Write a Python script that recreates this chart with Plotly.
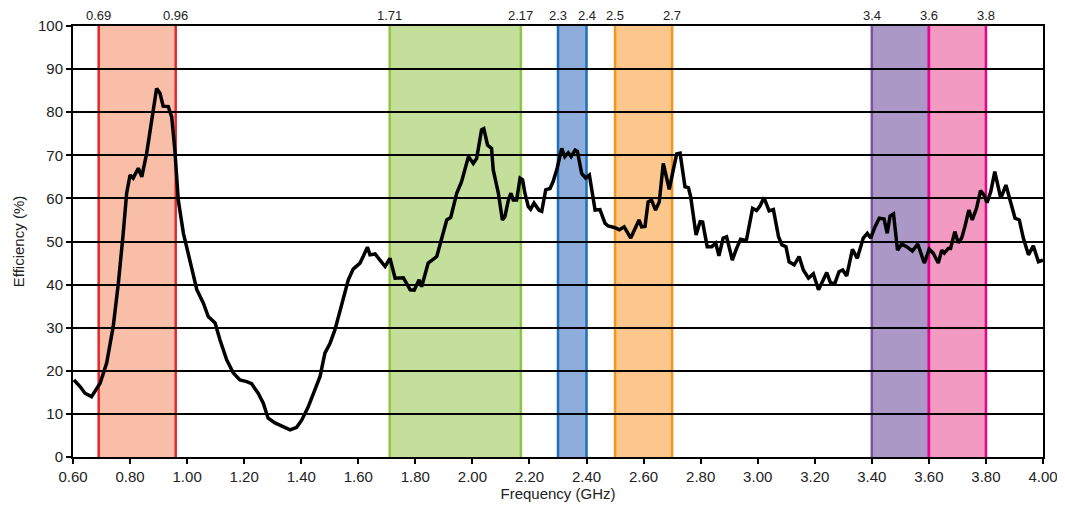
import plotly.graph_objects as go

# Measured efficiency curve
freq_ghz = [0.603, 0.624, 0.642, 0.665, 0.695, 0.718, 0.741, 0.759, 0.776, 0.788, 0.800, 0.811, 0.829, 0.841,
            0.858, 0.876, 0.893, 0.905, 0.916, 0.934, 0.946, 0.957, 0.969, 0.987, 1.010, 1.034, 1.057, 1.074,
            1.098, 1.115, 1.139, 1.162, 1.185, 1.209, 1.226, 1.249, 1.267, 1.284, 1.308, 1.337, 1.361, 1.384,
            1.402, 1.425, 1.448, 1.466, 1.483, 1.501, 1.518, 1.530, 1.547, 1.565, 1.582, 1.606, 1.617, 1.632,
            1.641, 1.659, 1.676, 1.694, 1.711, 1.729, 1.758, 1.782, 1.796, 1.813, 1.822, 1.845, 1.875, 1.892,
            1.910, 1.924, 1.945, 1.962, 1.986, 2.003, 2.015, 2.032, 2.040, 2.053, 2.067, 2.073, 2.091, 2.105,
            2.114, 2.126, 2.135, 2.143, 2.155, 2.167, 2.176, 2.184, 2.196, 2.204, 2.216, 2.233, 2.243, 2.257,
            2.272, 2.283, 2.297, 2.313, 2.324, 2.336, 2.346, 2.360, 2.368, 2.383, 2.397, 2.410, 2.430, 2.447,
            2.465, 2.476, 2.500, 2.515, 2.532, 2.555, 2.570, 2.584, 2.593, 2.605, 2.616, 2.628, 2.642, 2.655,
            2.669, 2.690, 2.704, 2.716, 2.728, 2.745, 2.757, 2.765, 2.784, 2.798, 2.807, 2.823, 2.839, 2.853,
            2.864, 2.879, 2.891, 2.911, 2.926, 2.940, 2.955, 2.961, 2.982, 2.996, 3.008, 3.022, 3.040, 3.055,
            3.073, 3.085, 3.099, 3.110, 3.128, 3.145, 3.160, 3.178, 3.195, 3.213, 3.227, 3.242, 3.256, 3.271,
            3.285, 3.298, 3.312, 3.332, 3.349, 3.370, 3.384, 3.396, 3.411, 3.426, 3.443, 3.454, 3.464, 3.476,
            3.490, 3.505, 3.522, 3.542, 3.561, 3.584, 3.601, 3.615, 3.633, 3.645, 3.654, 3.668, 3.676, 3.691,
            3.703, 3.715, 3.726, 3.740, 3.752, 3.767, 3.781, 3.793, 3.804, 3.817, 3.831, 3.852, 3.870, 3.890,
            3.902, 3.917, 3.931, 3.949, 3.966, 3.984, 4.000]
efficiency_pct = [17.9, 16.4, 14.8, 14.0, 17.1, 21.8, 30.3, 40.3, 51.9, 61.2, 65.4, 64.7, 67.0, 65.0,
                  70.4, 78.2, 85.5, 84.4, 81.4, 81.3, 78.9, 71.2, 59.6, 51.9, 45.7, 38.8, 35.7, 32.6,
                  31.1, 27.2, 22.5, 19.5, 17.9, 17.5, 17.0, 14.8, 12.5, 9.0, 7.9, 7.1, 6.3, 6.9,
                  8.6, 11.7, 15.6, 18.7, 24.1, 26.4, 29.5, 32.6, 37.2, 41.1, 43.6, 45.0, 46.5, 48.7,
                  46.9, 47.1, 45.7, 44.2, 46.1, 41.5, 41.6, 38.8, 38.7, 41.1, 39.5, 45.0, 46.5, 50.4,
                  55.0, 55.6, 61.2, 63.9, 69.7, 68.1, 69.3, 75.9, 76.2, 72.4, 71.6, 66.6, 61.2, 55.0,
                  55.8, 59.6, 61.2, 59.6, 59.6, 64.7, 64.3, 61.2, 58.1, 57.5, 58.9, 57.3, 57.0, 62.0,
                  62.3, 63.9, 67.0, 71.6, 69.7, 70.6, 69.7, 71.2, 70.9, 65.8, 64.7, 65.4, 57.3, 57.4,
                  54.2, 53.6, 53.2, 52.7, 53.4, 50.8, 53.1, 55.0, 53.4, 53.5, 59.2, 59.6, 57.3, 59.2,
                  68.1, 62.1, 66.6, 70.3, 70.5, 62.7, 62.5, 60.4, 51.5, 54.6, 54.5, 48.8, 48.8, 49.6,
                  46.7, 50.8, 51.1, 45.7, 48.4, 50.5, 50.3, 50.5, 57.7, 57.2, 58.2, 60.2, 57.1, 57.4,
                  51.1, 49.2, 48.8, 45.3, 44.6, 46.5, 43.4, 41.5, 42.5, 38.8, 40.7, 42.8, 40.3, 40.4,
                  43.0, 43.4, 42.0, 48.2, 46.1, 50.8, 51.9, 50.8, 53.4, 55.4, 55.2, 51.9, 55.9, 56.4,
                  48.0, 49.4, 48.8, 47.8, 49.4, 45.0, 48.2, 47.3, 45.0, 48.0, 47.3, 48.4, 48.4, 52.3,
                  49.7, 50.8, 53.4, 57.3, 55.0, 57.7, 61.8, 60.8, 59.0, 61.6, 66.2, 60.0, 63.1, 58.2,
                  55.4, 55.0, 50.8, 46.9, 49.0, 45.3, 45.7]

# Frequency bands
band_start = [0.69, 1.71, 2.3, 2.5, 3.4, 3.6]
band_end = [0.96, 2.17, 2.4, 2.7, 3.6, 3.8]
band_fill = ["#F8BEA8", "#C4DE9C", "#8FADDB", "#FBC78C", "#AC98C6", "#F29AC2"]
band_edge = ["#E5262A", "#8DC63F", "#1C70BE", "#F7941D", "#7B52A3", "#EC008C"]

# Top labels
top_label_vals = [0.69, 0.96, 1.71, 2.17, 2.3, 2.4, 2.5, 2.7, 3.4, 3.6, 3.8]
top_label_text = ["0.69", "0.96", "1.71", "2.17", "2.3", "2.4", "2.5", "2.7", "3.4", "3.6", "3.8"]

x_ticks = [round(0.6 + 0.2 * i, 2) for i in range(18)]
y_ticks = list(range(0, 101, 10))

fig = go.Figure()

shapes = []
for s, e, f in zip(band_start, band_end, band_fill):
    shapes.append(dict(type="rect", xref="x", yref="y", x0=s, x1=e, y0=0, y1=100,
                       fillcolor=f, line=dict(width=0), layer="below"))
for s, e, c in zip(band_start, band_end, band_edge):
    for xv in (s, e):
        shapes.append(dict(type="line", xref="x", yref="y", x0=xv, x1=xv, y0=0, y1=100,
                           line=dict(color=c, width=2.5), layer="below"))

fig.add_trace(go.Scatter(x=freq_ghz, y=efficiency_pct, mode="lines",
                         line=dict(color="black", width=3.5), showlegend=False,
                         hoverinfo="skip"))

annotations = [dict(x=v, y=1.0, xref="x", yref="paper", text=t, showarrow=False,
                    yanchor="bottom", yshift=1, font=dict(size=13, color="#222"))
               for v, t in zip(top_label_vals, top_label_text)]

fig.update_layout(
    width=1057, height=499,
    margin=dict(l=65, r=22, t=18, b=50, autoexpand=False),
    plot_bgcolor="white", paper_bgcolor="white",
    font=dict(family="Liberation Sans, Arial, sans-serif", size=15, color="#222"),
    shapes=shapes, annotations=annotations,
    xaxis=dict(range=[0.6, 4.0], tickvals=x_ticks, tickformat=".2f", automargin=False,
               showgrid=False, zeroline=False, showline=True, linecolor="black",
               linewidth=2, mirror=True, ticks="outside", ticklen=5, tickwidth=2,
               tickcolor="black", tickfont=dict(size=15),
               title=dict(text="Frequency (GHz)", standoff=4, font=dict(size=15))),
    yaxis=dict(range=[0, 100], tickvals=y_ticks, showgrid=True, gridcolor="black",
               gridwidth=2, zeroline=False, showline=True, linecolor="black",
               linewidth=2, mirror=True, ticks="outside", ticklen=5, tickwidth=2,
               automargin=False, tickfont=dict(size=15),
               tickcolor="black",
               title=dict(text="Efficiency (%)", standoff=10, font=dict(size=15))),
)

fig.write_html("out.html")
